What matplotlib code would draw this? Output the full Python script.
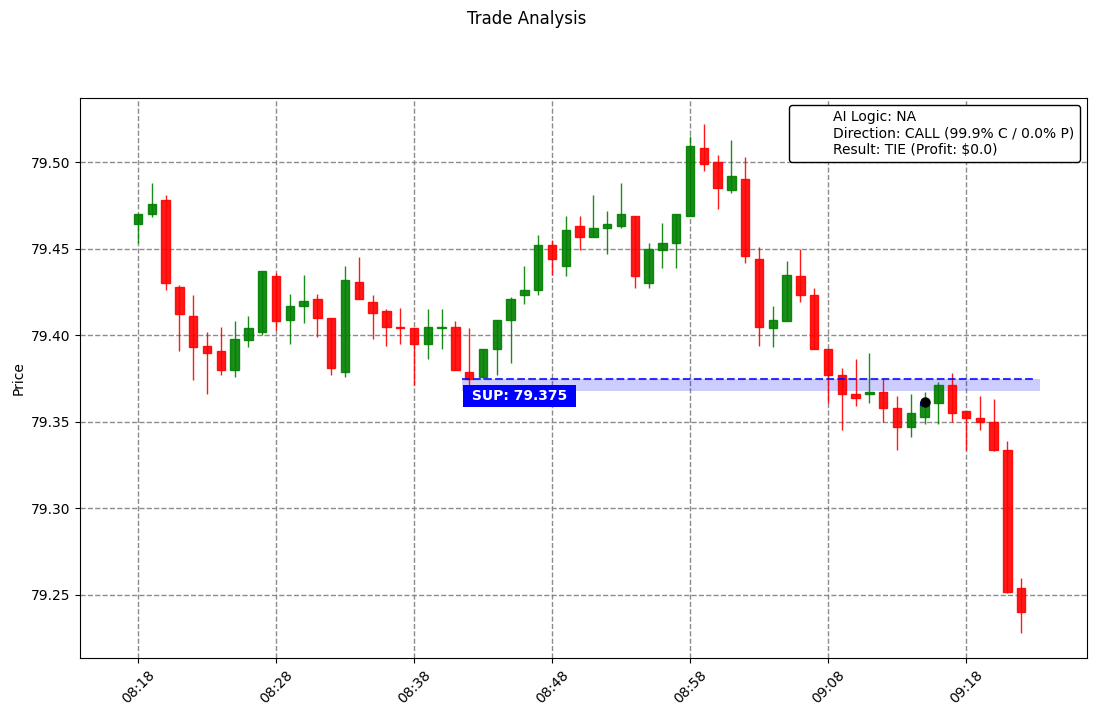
import datetime as dt
import numpy as np
import matplotlib
matplotlib.use("Agg")
import matplotlib.pyplot as plt
import matplotlib.dates as mdates
from matplotlib.lines import Line2D

# one candle per minute starting 08:18
start_time = dt.datetime(2024, 1, 1, 8, 18)
n_candles = 65
times = [start_time + dt.timedelta(minutes=i) for i in range(n_candles)]

opens = [79.464, 79.470, 79.478, 79.428, 79.411, 79.394, 79.391, 79.380, 79.397, 79.402,
         79.434, 79.409, 79.417, 79.421, 79.410, 79.379, 79.431, 79.419, 79.414, 79.405,
         79.404, 79.395, 79.404, 79.405, 79.379, 79.376, 79.392, 79.409, 79.423, 79.426,
         79.452, 79.440, 79.463, 79.457, 79.462, 79.463, 79.469, 79.430, 79.449, 79.453,
         79.469, 79.508, 79.500, 79.484, 79.490, 79.444, 79.404, 79.408, 79.434, 79.423,
         79.392, 79.377, 79.366, 79.366, 79.367, 79.358, 79.347, 79.353, 79.361, 79.371,
         79.356, 79.352, 79.350, 79.334, 79.254]
highs = [79.470, 79.488, 79.481, 79.429, 79.423, 79.402, 79.405, 79.408, 79.411, 79.437,
         79.436, 79.424, 79.435, 79.424, 79.410, 79.440, 79.445, 79.423, 79.415, 79.416,
         79.404, 79.415, 79.415, 79.408, 79.404, 79.392, 79.409, 79.422, 79.440, 79.458,
         79.455, 79.469, 79.469, 79.481, 79.472, 79.488, 79.469, 79.453, 79.465, 79.470,
         79.515, 79.522, 79.504, 79.513, 79.503, 79.451, 79.417, 79.443, 79.450, 79.427,
         79.392, 79.381, 79.386, 79.390, 79.375, 79.365, 79.366, 79.367, 79.373, 79.378,
         79.356, 79.365, 79.363, 79.339, 79.260]
lows = [79.453, 79.468, 79.426, 79.391, 79.374, 79.366, 79.377, 79.376, 79.393, 79.400,
        79.403, 79.395, 79.407, 79.399, 79.377, 79.376, 79.421, 79.398, 79.394, 79.395,
        79.371, 79.386, 79.392, 79.380, 79.371, 79.375, 79.377, 79.384, 79.418, 79.423,
        79.435, 79.434, 79.449, 79.457, 79.447, 79.462, 79.427, 79.427, 79.439, 79.439,
        79.469, 79.495, 79.473, 79.482, 79.442, 79.394, 79.393, 79.408, 79.419, 79.392,
        79.361, 79.345, 79.359, 79.361, 79.350, 79.334, 79.341, 79.349, 79.349, 79.350,
        79.334, 79.345, 79.333, 79.251, 79.228]
closes = [79.470, 79.476, 79.430, 79.412, 79.393, 79.390, 79.380, 79.398, 79.404, 79.437,
          79.408, 79.417, 79.420, 79.410, 79.381, 79.432, 79.421, 79.413, 79.405, 79.404,
          79.395, 79.405, 79.405, 79.380, 79.375, 79.392, 79.409, 79.421, 79.426, 79.452,
          79.444, 79.461, 79.457, 79.462, 79.464, 79.470, 79.434, 79.450, 79.453, 79.470,
          79.509, 79.499, 79.485, 79.492, 79.446, 79.405, 79.409, 79.435, 79.423, 79.392,
          79.377, 79.366, 79.364, 79.367, 79.358, 79.347, 79.355, 79.361, 79.371, 79.355,
          79.352, 79.350, 79.334, 79.252, 79.240]

# support zone
support_level = 79.375
support_low = 79.368
support_start = start_time + dt.timedelta(minutes=23.5)
support_end = start_time + dt.timedelta(minutes=64.85)
zone_end = start_time + dt.timedelta(minutes=65.4)

# entry marker
entry_time = start_time + dt.timedelta(minutes=57)
entry_price = 79.3615
entry_line_price = 79.360

info_lines = ["AI Logic: NA",
              "Direction: CALL (99.9% C / 0.0% P)",
              "Result: TIE (Profit: $0.0)"]

fig = plt.figure(figsize=(10.96, 7.16), dpi=100)
ax = fig.add_axes([80 / 1096, 1 - 658 / 716, 1007 / 1096, 560 / 716])
fig.suptitle("Trade Analysis", x=526.5 / 1096, y=1 - 10 / 716, va="top", fontsize=12)

x = mdates.date2num(times)
minute = 1 / 1440
body_w = 0.6 * minute
o = np.array(opens)
c = np.array(closes)
colors = ["green" if cc >= oo else "red" for oo, cc in zip(o, c)]

ax.vlines(x, lows, highs, colors=colors, linewidth=1, alpha=0.9, zorder=3)
ax.bar(x, np.abs(c - o), bottom=np.minimum(o, c), width=body_w, color=colors,
       edgecolor=colors, linewidth=1, alpha=0.9, zorder=4)

# support zone and level
ax.fill_between([mdates.date2num(support_start), mdates.date2num(zone_end)],
                support_low, support_level, color="blue", alpha=0.2, linewidth=0, zorder=2)
ax.hlines(support_level, mdates.date2num(support_start), mdates.date2num(support_end),
          colors="blue", linestyles="--", linewidth=1.5, alpha=0.8, zorder=5)
ax.text(mdates.date2num(support_start) + 0.35 * minute, support_low + 0.0009,
        f" SUP: {support_level} ", color="white", fontweight="bold", fontsize=10,
        ha="left", va="top", zorder=6,
        bbox=dict(boxstyle="square,pad=0.3", facecolor="blue", edgecolor="none"))

# entry marker
ex = mdates.date2num(entry_time)
ax.hlines(entry_line_price, ex - body_w / 2, ex + body_w / 2, colors="blue", linewidth=3, zorder=6)
ax.plot(ex, entry_price, "o", color="black", markersize=6.5, zorder=7)

ax.set_xlim(mdates.date2num(start_time) - 4.2 * minute, mdates.date2num(start_time) + 68.77 * minute)
ax.set_ylim(79.2136, 79.537)
ax.xaxis.set_major_locator(mdates.MinuteLocator(byminute=range(8, 60, 10)))
ax.xaxis.set_major_formatter(mdates.DateFormatter("%H:%M"))
plt.setp(ax.get_xticklabels(), rotation=45)
ax.yaxis.set_major_formatter(matplotlib.ticker.FormatStrFormatter("%.2f"))
ax.set_ylabel("Price")
ax.grid(True, linestyle="--", color="gray", linewidth=1, alpha=0.9)

handles = [Line2D([], [], color="none", label=t) for t in info_lines]
leg = ax.legend(handles=handles, loc="upper right", framealpha=1, edgecolor="black",
                labelspacing=0.15)

fig.savefig("out.png", dpi=100)
